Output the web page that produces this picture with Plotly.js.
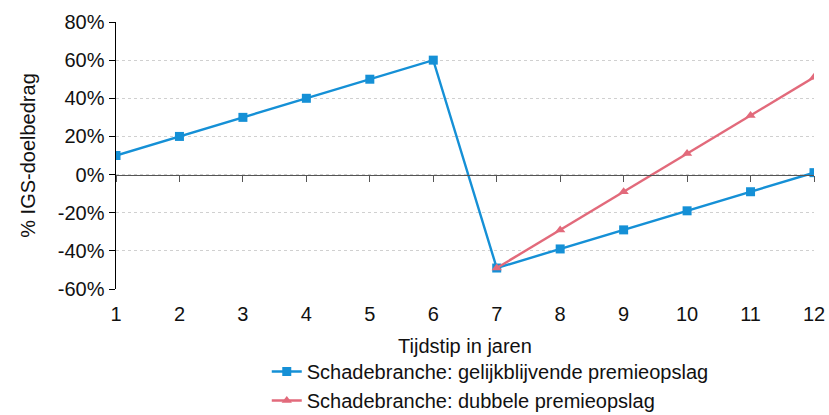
<!DOCTYPE html>
<html>
<head>
<meta charset="utf-8">
<script src="https://cdn.plot.ly/plotly-3.0.1.min.js"></script>
<style>html,body{margin:0;padding:0;background:#fff;}#chart{width:829px;height:415px;}</style>
</head>
<body>
<div id="chart"></div>
<script>
const years = [1,2,3,4,5,6,7,8,9,10,11,12];
const gelijkblijvend = [10,20,30,40,50,60,-49,-39,-29,-19,-9,1];
const dubbelYears = [7,8,9,10,11,12];
const dubbel = [-49,-29,-9,11,31,51];
const yTickVals = [-60,-40,-20,0,20,40,60,80];
const yTickText = yTickVals.map(v => v + '%');
const seriesNames = ['Schadebranche: gelijkblijvende premieopslag','Schadebranche: dubbele premieopslag'];

const blue = '#1590d6';
const pink = '#e26a7b';
const font = 'Liberation Sans, Arial, sans-serif';
const fs = 20;

const traces = [
  {x: years, y: gelijkblijvend, name: seriesNames[0], type: 'scatter', mode: 'lines+markers',
   line: {color: blue, width: 2.4}, marker: {symbol: 'square', size: 9, color: blue},
   legendgroup: 'a', xaxis: 'x', yaxis: 'y'},
  {x: dubbelYears, y: dubbel, name: seriesNames[1], type: 'scatter', mode: 'lines+markers',
   line: {color: pink, width: 2.4}, marker: {symbol: 'triangle-up', size: 9, color: pink},
   legendgroup: 'b', xaxis: 'x', yaxis: 'y'},
  {x: years, y: years.map(() => null), xaxis: 'x2', yaxis: 'y', showlegend: false, hoverinfo: 'skip', mode: 'lines'}
];

const layout = {
  width: 829, height: 415,
  margin: {l: 116, r: 15, t: 22, b: 126, autoexpand: false},
  paper_bgcolor: '#fff', plot_bgcolor: '#fff',
  font: {family: font, size: fs, color: '#111'},
  showlegend: true,
  legend: {x: 0.216, y: -0.236, xanchor: 'left', yanchor: 'top', orientation: 'v',
           tracegroupgap: 0, font: {family: font, size: fs, color: '#111'}, bgcolor: 'rgba(0,0,0,0)'},
  xaxis: {range: [1, 12], tickvals: years, ticktext: years.map(String), showgrid: false,
          zeroline: false, showline: false, ticks: '', tickfont: {size: fs}, ticklabelstandoff: 11,
          title: {text: 'Tijdstip in jaren', font: {size: fs}, standoff: 14}},
  xaxis2: {range: [1, 12], overlaying: 'x', anchor: 'free', position: 0.427, tickvals: years,
           showticklabels: false, ticks: 'outside', ticklen: 6, tickcolor: '#555', tickwidth: 1,
           showline: true, linecolor: '#555', linewidth: 1, showgrid: false, zeroline: false},
  yaxis: {range: [-60, 80], tickvals: yTickVals, ticktext: yTickText, showline: true,
          linecolor: '#000', linewidth: 1.5, ticks: 'outside', ticklen: 6, tickcolor: '#000',
          showgrid: true, gridcolor: '#d0d0d0', griddash: 'dot', gridwidth: 1,
          zeroline: false, tickfont: {size: fs},
          title: {text: '% IGS-doelbedrag', font: {size: fs}, standoff: 17}}
};

Plotly.newPlot('chart', traces, layout, {displayModeBar: false, staticPlot: true});
</script>
</body>
</html>
